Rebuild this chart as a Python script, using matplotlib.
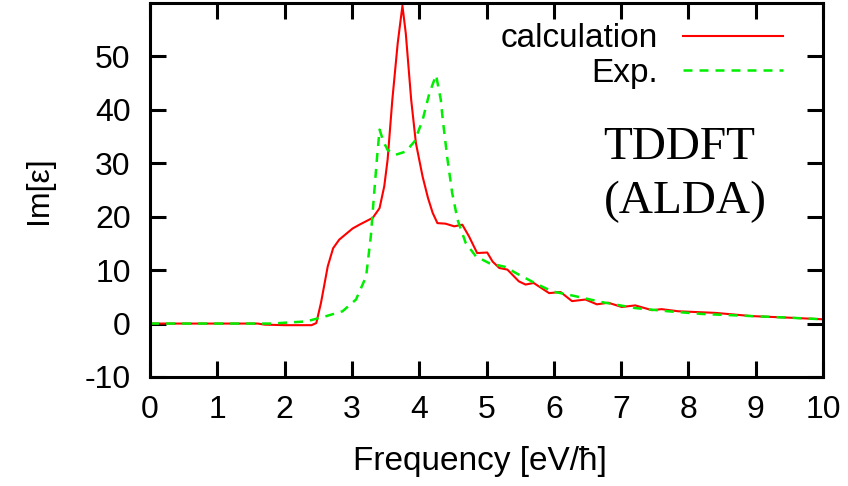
import matplotlib
matplotlib.use("Agg")
import matplotlib.pyplot as plt

# Calculated spectrum (TDDFT, ALDA)
calc_freq = [0.0, 1.0, 1.6, 1.7, 2.0, 2.4, 2.47, 2.54, 2.64, 2.72, 2.81, 3.01, 3.11,
             3.31, 3.41, 3.48, 3.53, 3.60, 3.68, 3.75, 3.80, 3.88, 3.95, 4.05, 4.13,
             4.20, 4.27, 4.39, 4.52, 4.64, 4.74, 4.86, 5.01, 5.09, 5.19, 5.31, 5.48,
             5.58, 5.70, 5.93, 6.10, 6.27, 6.47, 6.64, 6.81, 7.01, 7.21, 7.46, 7.60,
             7.85, 8.40, 8.94, 9.50, 10.0]
calc_im = [0.0, 0.0, 0.0, -0.2, -0.3, -0.3, 0.1, 3.9, 10.7, 14.1, 15.7, 17.8, 18.5,
           19.8, 21.6, 25.7, 30.7, 41.9, 52.5, 59.5, 54.3, 41.9, 33.8, 27.5, 23.5,
           20.7, 18.8, 18.7, 18.2, 18.5, 16.3, 13.2, 13.3, 11.6, 10.4, 10.1, 7.9,
           7.3, 7.6, 5.7, 5.9, 4.2, 4.5, 3.6, 3.9, 3.1, 3.4, 2.5, 2.7,
           2.3, 2.0, 1.4, 1.1, 0.8]

# Experimental spectrum
exp_freq = [0.0, 1.8, 2.32, 2.62, 2.86, 3.06, 3.21, 3.28, 3.33, 3.37, 3.41, 3.47,
            3.53, 3.65, 3.80, 3.93, 4.05, 4.15, 4.25, 4.32, 4.35, 4.42, 4.49, 4.57,
            4.69, 4.84, 5.04, 5.28, 5.43, 5.73, 5.98, 6.22, 6.72, 7.21, 7.70, 8.20,
            8.94, 9.50, 10.0]
exp_im = [0.0, 0.0, 0.4, 1.4, 2.3, 4.5, 8.8, 16.3, 24.4, 30.7, 36.3, 34.0,
          32.5, 31.6, 32.2, 34.1, 38.1, 43.1, 46.5, 41.9, 38.1, 30.7, 24.4, 19.4,
          15.1, 12.6, 11.3, 10.6, 9.5, 7.5, 6.0, 5.4, 4.0, 2.9, 2.3, 1.8,
          1.4, 1.1, 0.8]

x_ticks = list(range(0, 11))
y_ticks = [-10, 0, 10, 20, 30, 40, 50]

plt.rcParams['font.family'] = ['Liberation Sans', 'DejaVu Sans']
plt.rcParams['axes.unicode_minus'] = False

fig = plt.figure(figsize=(8.48, 4.86), dpi=100)
ax = fig.add_axes([0.177, 0.2243, 0.7935, 0.7695])

ax.plot(calc_freq, calc_im, color='#ff0000', lw=1.5, label='calculation')
ax.plot(exp_freq, exp_im, color='#00ee00', lw=1.8, dashes=(3.6, 2.8), label='Exp.')

ax.set_xlim(0, 10)
ax.set_ylim(-10, 60)
ax.set_xticks(x_ticks)
ax.set_yticks(y_ticks)

for s in ax.spines.values():
    s.set_linewidth(2.2)
ax.tick_params(direction='in', length=11.5, width=2.2, top=True, right=True,
               labelsize=23, colors='black')
ax.tick_params(axis='x', pad=13)
ax.tick_params(axis='y', pad=14)

ax.set_xlabel('Frequency [eV/ħ]', fontsize=24, labelpad=15)
ax.xaxis.label.set_x(0.49)
ax.set_ylabel('Im[ε]', fontsize=23, labelpad=22)

leg = ax.legend(loc='upper right', bbox_to_anchor=(0.9406, 0.946), frameon=False,
                markerfirst=False, fontsize=24, handlelength=3.0,
                handletextpad=0.75, labelspacing=0.1, borderpad=0, borderaxespad=0)

ax.text(0.674, 0.4385, 'TDDFT\n(ALDA)', transform=ax.transAxes,
        family='Liberation Serif', fontsize=34, ha='left', va='baseline',
        linespacing=1.34)

fig.savefig('out.png', dpi=100)
